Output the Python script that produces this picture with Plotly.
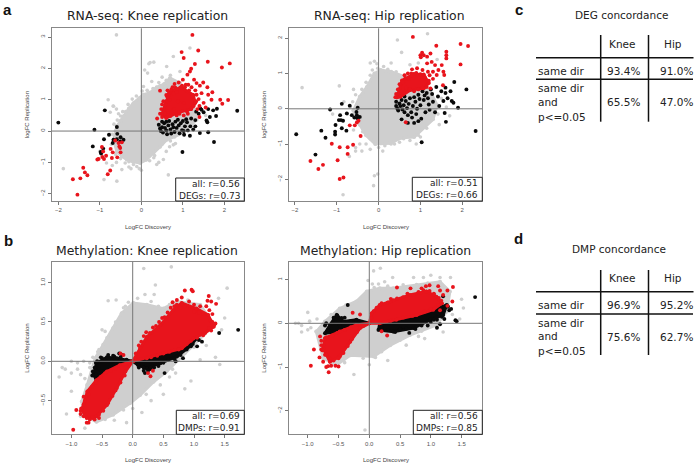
import plotly.graph_objects as go

# ---------- data (LogFC discovery, LogFC replication) ----------
# Dense clouds that cannot be read point by point are given as outlines, plus points along their rough edges.
rna_knee_gray_body = [(-.67,-.28),(-.62,.0),(-.59,.15),(-.5,.33),(-.43,.47),(-.3,.72),(-.19,.89),(-.05,1.05),(.05,1.16),(.2,1.22),(.37,1.40),(.55,1.5),(.69,1.69),(.93,1.53),(1.1,1.2),(1.25,.79),(1.33,.36),(1.0,-.06),(.8,-.18),(.61,-.28),(.45,-.5),(.29,-.70),(.12,-.92),(-.03,-1.02),(-.2,-.98),(-.35,-.91),(-.47,-.8),(-.59,-.65)]
rna_knee_gray = [(-.6,3.07),(.18,2.15),(.3,2.2),(.08,1.95),(.15,1.85),(-.8,1.0),(-.68,.8),(-.6,.7),(-1.88,-1.2),(-.59,-1.6),(-.9,-1.55),(.65,-1.4),(.77,-.44),(.53,-.91),(.37,-1.07),(-.19,-1.07),(-.39,-1.02),(-.47,-1.23),(-.11,-1.13),(1.17,2.65),(.77,2.38),(.61,2.06),(.21,2.19),(.93,1.9),(-.67,.79),(-.75,.6),(-.55,.55),(-.45,.62),(-1.0,-.65),(-.84,-1.02),(-.7,-1.1),(-.6,-1.0),(-.75,-.1),(.05,1.42),(.25,1.58),(.5,1.72),(.7,1.78),(.45,1.45),(1.4,.8),(1.55,.5),(.82,-.4),(.68,-.5),(.6,-.65),(.2,-.95),(-.05,-1.2),(.0,-1.25),(.3,-.85),(-.25,-1.2),(-.3,-1.15),(.42,-1.0),
 (-.72,-.42),(-.7,-.1),(-.66,.22),(-.58,.35),(-.5,.48),(-.38,.62),(-.32,.85),(-.22,1.02),(-.12,1.12),(.02,1.28),(.14,1.3),(.28,1.36),(.42,1.55),(.6,1.62),(.32,-.78),(.5,-.42),(.7,-.32),(-.5,-.88),(-.62,-.75),(-.3,-.98)]
rna_knee_red_body = [(.5,.55),(.6,.95),(.7,1.25),(.95,1.4),(1.25,1.15),(1.3,.9),(1.2,.7),(.9,.6),(.6,.42)]
rna_knee_red = [(1.23,3.07),(.97,2.52),(1.02,2.33),(1.37,2.57),(1.6,2.21),(2.13,2.16),(1.94,2.03),(1.29,2.14),(1.2,1.99),(1.17,1.9),(1.11,1.8),(1.0,1.64),(1.27,1.64),(1.33,1.53),(1.49,1.55),(1.41,1.45),(1.13,1.48),(1.21,1.4),(1.05,1.4),(1.59,1.4),(1.71,1.24),(1.61,1.16),(1.45,1.21),(1.33,1.16),(1.24,1.11),(1.9,1.0),(2.09,.99),(1.95,.87),(1.69,1.0),(.45,1.29),(.38,.4),(.5,.45),(.55,.7),(.62,1.1),(.63,1.3),(.8,1.5),(.9,1.55),(1.4,.8),(1.5,.9),(1.55,.75),(1.35,.7),(1.12,.55),(.85,.5),(1.4,.45),
 (.45,.55),(.48,.7),(.5,.85),(.53,.95),(.57,.55),(.58,.85),(.6,1.15),(.64,.62),(.66,1.2),(.68,1.0),(.7,.48),(.72,1.32),(.75,1.4),(.78,1.2),(.82,1.38),(.85,1.25),(.88,.95),(.92,.55),(.98,1.45),(1.02,.5),(1.07,1.48),(1.1,.62),(1.15,1.3),(1.2,.72),(1.26,.8),(1.32,.95),(1.3,1.3),(1.38,1.02),(1.02,.9),(.78,.7),
 (-1.65,-1.54),(-1.47,-1.51),(-1.54,-2.03),(-1.4,-1.17),(-1.36,-1.32),(-1.3,-1.41),(-.81,-1.38),(-.75,-1.26),(-1.06,-.91),(-1.03,-.89),(-.94,-.83),(-.9,-.89),(-.85,-.79),(-.95,-.51),(-.92,-.65),(-.71,-.86),(-.58,-.84),(-.74,-.57),(-.69,-.68),(-.63,-.3),(-.55,-.38),(-.51,-.54),(-.5,-.68),(-.47,-.36),(-.53,-.49)]
rna_knee_black = [(-2.0,.27),(-.88,.66),(-1.13,.04),(-.59,.13),(-1.17,-.49),(-.78,-.12),(-.9,-.26),(-.58,-.09),(-.5,-.2),(-.43,-.28),(-.67,-.28),(-.69,-.38),(-.98,-.67),(-.92,-.56),(-.97,-.72),(-.51,-.33),(-.59,-.26),
 (.42,.2),(.45,.08),(.47,.0),(.5,.12),(.52,-.05),(.55,.25),(.57,.1),(.6,.02),(.62,-.1),(.65,.18),(.67,.32),(.7,.05),(.72,-.08),(.75,.22),(.77,.12),(.8,-.03),(.82,.3),(.85,.1),(.88,.36),(.9,.18),(.92,-.07),(.95,.25),(.98,.03),(1.0,.32),(1.03,-.12),(1.05,.15),(1.08,.38),(1.1,.28),(1.12,.02),(1.17,-.15),(1.18,.15),(1.2,.4),(1.3,.35),(1.32,.62),(1.38,.55),(1.42,.72),(1.45,.68),(1.3,.15),(1.25,.05),(1.41,-.06),(1.61,-.04),(1.57,.34),(1.59,.28),(1.65,.45),(1.8,.48),(1.73,.66),(1.82,.71),(1.61,.7),(1.5,.6),(2.31,.65),(.99,-.67),(1.75,-.35),(1.02,.0),(.6,.3),(.5,.3)]

rna_hip_gray_body = [(-.6,-.05),(-.45,.34),(-.28,.62),(-.1,1.0),(.05,1.1),(.3,1.05),(.65,.9),(1.0,.75),(1.25,.45),(1.4,.1),(1.3,-.3),(.85,-.8),(.55,-.82),(.28,-.98),(-.08,-1.0),(-.3,-.75),(-.45,-.45)]
rna_hip_gray = [(1.17,2.13),(.45,1.95),(-1.83,.6),(-.94,.65),(-.6,.55),(-.1,1.35),(-.2,1.3),(-.04,1.28),(-.15,1.1),(.3,1.3),(.55,1.6),(1.4,1.4),(.75,1.25),(.95,1.3),(-1.1,-.15),(-.83,.2),(-.55,-1.1),(-.7,-1.35),(-.85,-2.44),(-.12,-2.18),(-.1,-1.9),(-.02,-1.85),(-.4,-1.2),(-.55,-1.2),(-.3,-1.0),(-.45,-1.0),(-.2,-1.15),(.1,-1.2),(.3,-1.0),(.5,-.95),(.75,-.9),(.9,-1.0),(1.0,-.8),(1.45,-.45),(1.7,-.2),(1.62,.05),(1.5,.3),(.6,-.85),(.15,-1.05),(-.6,-.6),(-.75,-.15),(-.68,.05),(-.62,.2),
 (-.55,.4),(-.4,.55),(-.3,.75),(-.2,.95),(-.02,1.15),(.12,1.2),(.22,1.12),(.42,1.05),(1.15,.6),(1.32,.25),(1.42,-.15),(1.15,-.55),(.95,-.75),(.38,-1.0),(.0,-1.1),(-.2,-.85),(-.38,-.65),(-.52,-.3)]
rna_hip_red_body = [(.44,.33),(.56,.8),(.84,.99),(1.08,.97),(1.2,.73),(1.08,.58),(.76,.53),(.52,.34)]
rna_hip_red = [(.82,2.04),(1.38,1.79),(1.62,1.62),(1.62,1.52),(1.62,1.43),(1.96,1.84),(2.14,1.78),(1.96,1.26),(1.04,1.59),(1.0,1.52),(1.08,1.52),(1.01,1.46),(1.16,1.48),(1.24,1.57),(1.27,1.33),(1.16,1.29),(1.35,1.24),(1.51,1.24),(1.55,1.05),(1.57,.96),(1.39,.96),(1.43,1.1),(1.54,.67),(1.24,.58),(.8,1.12),(.92,1.15),(.64,.86),(.78,1.0),(1.05,1.1),(1.18,1.05),(1.3,.85),(1.3,1.05),(.4,.33),(.5,.55),(.6,.45),
 (.42,.42),(.46,.55),(.5,.7),(.55,.5),(.58,.75),(.62,.95),(.66,.6),(.7,1.0),(.75,.55),(.8,.95),(.85,.5),(.9,1.02),(.95,.55),(1.0,.98),(1.05,.6),(1.1,.9),(1.15,.62),(1.2,.8),(1.22,.95),(.72,.85),
 (-1.63,-1.48),(-1.44,-1.71),(-1.33,-1.59),(-1.12,-.99),(-.93,-1.09),(-.74,-1.09),(-.61,-1.02),(-.74,-1.28),(-.98,-1.46),(-.93,-1.99),(-.84,-1.95),(-.43,-.77),(-.69,-.47),(-.57,-.47),(-.52,-.39),(-.48,-.34),(.65,-.38)]
rna_hip_black = [(-1.97,-.72),(-1.51,-1.3),(-1.37,-.62),(-1.27,-.82),(-1.04,-.65),(-1.04,-.73),(-1.03,-.46),(-.88,-.55),(-.77,-.62),(-1.16,-.02),(-.88,.14),(-.69,.09),(-.5,.03),(-.92,-.18),(-.9,-.32),(-.95,-.32),(-.85,-.34),(-.76,-.13),(-.64,-.18),(-.58,-.25),(-.52,-.18),(-.45,-.23),(-.53,-.09),(-.5,-.27),
 (2.32,-.63),(1.03,-.95),(2.1,.55),(1.81,.76),(1.9,.03),(1.79,.17),(1.61,-.37),(.42,.2),(.42,.08),(.45,.0),(.47,-.05),(.5,.15),(.52,.08),(.55,.25),(.57,-.02),(.6,.1),(.62,-.1),(.65,.22),(.68,.02),(.7,-.18),(.72,.14),(.75,.3),(.78,-.1),(.8,-.25),(.82,.08),(.85,.33),(.88,.2),(.9,-.15),(.92,.0),(.95,.4),(.98,.28),(1.0,.1),(1.02,-.28),(1.05,.5),(1.08,.25),(1.1,.38),(1.12,-.1),(1.15,.45),(1.18,.3),(1.2,.12),(1.22,-.03),(1.25,.55),(1.28,.42),(1.3,.2),(1.35,-.1),(1.38,.62),(1.42,.35),(1.45,.08),(1.5,.5),(1.55,.22),(1.58,-.12),(1.6,.45),(1.65,.3),(1.72,.5),(1.75,.22),(1.6,.6),(.7,-.4),(.85,-.4),(.95,-.35),(.55,-.3),(.62,.35)]

meth_knee_gray_body = [(-.74,-.3),(-.61,.04),(-.48,.21),(-.32,.42),(-.18,.61),(.01,.74),(.23,.72),(.5,.67),(.72,.76),(1.1,.72),(1.32,.46),(1.1,.29),(.77,.04),(.55,-.13),(.34,-.26),(.12,-.43),(-.04,-.53),(-.32,-.68),(-.59,-.77),(-.8,-.68),(-.83,-.51)]
meth_knee_gray = [(.18,1.18),(.63,1.2),(.37,.97),(1.54,.93),(1.4,.8),(1.5,.55),(-.4,.77),(-.27,.78),(-.07,.75),(.0,.72),(.1,.72),(-.45,.38),(-.5,.4),(-1.2,-.2),(-1.15,-.08),(-1.1,-.1),(-1.0,.0),(-.9,-.02),(-.9,-.1),(-.8,.0),(-1.0,-.38),(-1.0,-.15),(-.85,-.17),(-.7,-.08),(-.65,.05),(-.55,.15),(-1.08,-.67),(-.85,-.7),(-.78,-.85),(-.1,-.78),(-.3,-.75),(.0,-.6),(.15,-.65),(.3,-.5),(.5,-.42),(.85,-.35),(.95,-.25),(1.42,-.04),(1.35,.05),(1.1,.02),(.7,-.15),(.6,-.2),(1.2,.2),(1.45,.4),(.2,.85),(.35,.85),(-.15,.68),
 (-.78,-.22),(-.7,-.02),(-.57,.12),(-.42,.3),(-.28,.5),(-.12,.7),(.08,.8),(.3,.76),(.42,.7),(.6,.72),(.9,.78),(.65,-.1),(.85,.1),(1.0,.18),(.45,-.3),(.22,-.42),(-.15,-.62),(-.45,-.74)]
meth_knee_red_right = [(0,0),(.12,.17),(.23,.31),(.45,.46),(.66,.65),(.8,.74),(1.04,.67),(1.23,.59),(1.32,.44),(1.18,.36),(.99,.29),(.8,.165),(.5,.1),(.23,.04)]
meth_knee_red_left = [(0,0),(-.12,-.13),(-.26,-.34),(-.42,-.555),(-.59,-.7),(-.75,-.72),(-.83,-.62),(-.74,-.385),(-.59,-.24),(-.42,-.13),(-.21,-.05)]
meth_knee_black_right = [(0,0),(.23,.04),(.5,.1),(.8,.165),(1.04,.29),(.93,.19),(.72,.06),(.45,-.025),(.23,-.09),(.09,-.05)]
meth_knee_black_left = [(0,0),(-.26,.04),(-.42,.05),(-.59,-.025),(-.64,-.17),(-.59,-.24),(-.42,-.13),(-.21,-.05)]
meth_knee_red = [(-.97,-.87),(-.92,-.62),(-.85,-.63),(-.8,-.55),(-.8,-.45),(-.75,-.78),(-.72,-.78),(-.66,-.72),(-.55,-.72),(.85,.9),(.96,.91),(.98,.89),(.8,.81),(.75,.7),(.8,.71),(.85,.7),(1.24,.83),(1.22,.77),(1.28,.76),(1.36,.73),(1.2,.7),(1.3,.6),(1.25,.65),(1.33,.46),(1.35,.48),(1.28,.39),(.25,-.15),(.29,-.19),(.33,-.12),(-.2,.1),(-.15,.08),(.65,.75),(.72,.72),(1.0,.72),(1.1,.7),
 (.05,.1),(.1,.2),(.14,.25),(.18,.32),(.22,.37),(.28,.36),(.33,.43),(.38,.45),(.43,.5),(.48,.55),(.52,.56),(.57,.62),(.62,.68),(.68,.7),(.72,.78),(.78,.68),(.92,.76),(1.0,.63),(1.08,.62),(1.15,.6),(1.27,.52),(1.3,.5),(1.25,.42),(1.15,.33),(1.05,.3),(.95,.26),(.88,.22),(.75,.15),(.6,.12),(.4,.07),(.3,.05),
 (-.1,-.08),(-.18,-.08),(-.28,-.09),(-.36,-.12),(-.45,-.15),(-.52,-.2),(-.6,-.27),(-.66,-.32),(-.72,-.42),(-.78,-.5),(-.84,-.6),(-.85,-.67),(-.8,-.7),(-.7,-.74),(-.62,-.74),(-.55,-.68),(-.48,-.63),(-.4,-.53),(-.33,-.44),(-.28,-.37),(-.2,-.27),(-.13,-.18)]
meth_knee_black = [(1.72,.4),(1.41,.36),(1.05,.19),(.95,.19),(.82,.04),(.52,-.15),(.28,-.1),(.2,-.15),(-.66,-.18),(-.55,-.1),(-.6,-.02),(-.52,.05),(-.22,.1),(-.18,.08),(1.13,.25),(.7,.0),(.3,-.08),(.18,-.08),(-.3,.06),
 (.1,-.08),(.18,-.12),(.25,-.12),(.35,-.08),(.42,-.06),(.5,-.02),(.58,.02),(.68,.03),(.78,.08),(.88,.15),(.98,.22),(1.08,.27),(-.1,.02),(-.2,.05),(-.32,.07),(-.4,.08),(-.5,.04),(-.58,.0),(-.62,-.08),(-.65,-.13),(-.6,-.17),(-.5,-.13)]

meth_hip_gray_body = [(-.86,-.19),(-.72,.04),(-.48,.34),(-.21,.5),(-.04,.73),(.17,.8),(.39,.8),(.77,.88),(1.15,.95),(1.31,.73),(1.26,.27),(1.09,-.04),(.66,-.27),(.34,-.5),(.07,-.76),(-.31,-.73),(-.53,-.95),(-.75,-.8)]
meth_hip_gray = [(.07,1.2),(.18,1.26),(.38,1.05),(.72,1.05),(.88,1.05),(1.0,1.1),(1.15,1.05),(1.32,1.05),(1.5,.55),(1.53,.35),(1.47,.1),(1.35,.2),(-1.0,.25),(-1.15,.0),(-1.2,.0),(-1.1,-.05),(-.97,.05),(-1.1,-.2),(-1.0,-.15),(-.85,.1),(-.95,-.1),(-.25,-1.17),(-.07,-2.44),(.1,-.78),(.2,-.65),(.3,-.85),(.0,-.95),(-.4,-.9),(.25,.95),(.05,.9),(-.02,.98),(.15,.9),(.5,-.38),(.8,-.3),(1.2,-.2),(.6,-.5),(.9,-.35),
 (-.62,.2),(-.38,.42),(-.1,.62),(.08,.82),(.3,.85),(.55,.88),(.95,.92),(1.2,.5),(1.18,.12),(.85,-.18),(.5,-.38),(.2,-.62),(-.1,-.8),(-.42,-.85),(-.8,-.42)]
meth_hip_red_right = [(0,0),(.04,.23),(.17,.42),(.39,.53),(.66,.65),(.93,.73),(1.09,.61),(1.18,.46),(1.04,.31),(.77,.19),(.44,.08),(.17,0)]
meth_hip_red_left = [(0,0),(-.15,-.11),(-.31,-.42),(-.48,-.76),(-.64,-.88),(-.75,-.57),(-.72,-.34),(-.48,-.19),(-.21,-.04)]
meth_hip_black_right = [(.17,0),(.44,.08),(.77,.19),(1.04,.31),(1.26,.42),(1.2,.19),(.99,.08),(.72,-.11),(.39,-.19),(.15,-.15)]
meth_hip_black_left = [(0,0),(-.21,-.04),(-.48,-.19),(-.72,-.23),(-.64,-.04),(-.53,.19),(-.42,.04),(-.21,.08)]
meth_hip_red = [(-.95,-.97),(-.9,-.6),(-.8,-.3),(-.81,-.78),(-.75,-.88),(-.72,-.72),(-.7,-1.0),(-.67,-.98),(-.66,-1.12),(-.62,-.97),(-.55,-.97),(-.5,-.99),(-.78,-.5),(-.78,-.6),(.45,.82),(.67,.8),(.85,.8),(.92,.85),(.98,.87),(1.12,.85),(1.36,.83),(1.27,.75),(1.2,.65),(1.35,.5),(1.27,.4),(1.15,.75),(1.05,.68),(1.15,.3),(.29,-.28),(.2,-.18),(-.27,.24),(-.15,.2),
 (.03,.12),(.07,.28),(.12,.36),(.2,.46),(.3,.48),(.35,.56),(.45,.57),(.55,.6),(.62,.68),(.72,.65),(.8,.72),(.88,.76),(.98,.74),(1.05,.66),(1.13,.58),(1.17,.52),(1.12,.42),(1.0,.33),(.9,.27),(.7,.17),(.55,.13),(.35,.06),
 (-.1,-.06),(-.2,-.2),(-.28,-.36),(-.35,-.52),(-.42,-.68),(-.5,-.8),(-.58,-.85),(-.65,-.8),(-.7,-.72),(-.76,-.62),(-.78,-.4),(-.7,-.32),(-.6,-.28),(-.52,-.22),(-.4,-.15),(-.3,-.09)]
meth_hip_black = [(1.72,.6),(1.4,.07),(1.42,.05),(-.35,.42),(-.52,.18),(-.72,-.05),(-.7,.0),(-.67,-.7),(.65,-.22),(.95,-.05),(1.1,-.1),(1.15,-.02),(1.18,.15),(1.22,.1),(1.3,.3),(1.33,.33),(1.2,.62),(-.4,.13),(.5,-.12),(.85,.0),(1.05,.08),
 (.2,-.1),(.3,-.15),(.42,-.2),(.5,-.14),(.6,-.12),(.75,-.13),(.85,-.05),(1.0,.03),(1.1,.08),(1.18,.2),(1.28,.38),(-.55,.1),(-.6,.0),(-.67,-.15),(-.45,.12),(-.3,.05),(-.48,-.05),(-.58,.13)]

panel_titles = ["RNA-seq: Knee replication", "RNA-seq: Hip replication", "Methylation: Knee replication", "Methylation: Hip replication"]
stat_lines = [["all: r=0.56", "DEGs: r=0.73"], ["all: r=0.51", "DEGs: r=0.66"], ["all: r=0.69", "DMPs: r=0.91"], ["all: r=0.56", "DMPs: r=0.85"]]
y_titles = ["logFC Replication", "logFC Replication", "LogFC Replication", "LogFC Replication"]
x_ticks_rna = [-2, -1, 0, 1, 2]
x_ticks_meth = [-1.0, -0.5, 0.0, 0.5, 1.0, 1.5]
y_ticks = [[-2, -1, 0, 1, 2, 3], [-2, -1, 0, 1, 2], [-0.5, 0.0, 0.5, 1.0], [-2, -1, 0, 1]]
table_c = ["DEG concordance", "93.4%", "91.0%", "65.5%", "47.0%"]
table_d = ["DMP concordance", "96.9%", "95.2%", "75.6%", "62.7%"]

# ---------- layout geometry (pixels) ----------
W, H = 700, 469
GRAY, RED, BLACK = "#cfcfcf", "#e8141c", "#0a0a0a"
SANS = "Liberation Sans"
DJ = "DejaVu Sans"
def px(x): return x / W
def py(y): return 1 - y / H

panels = [
    dict(box=(51.7, 244.3, 28.3, 201), xr=(-2.16, 2.48), yr=(-2.233, 3.28), xt=x_ticks_rna, xfmt="d", yfmt="d",
         gb=[rna_knee_gray_body], g=rna_knee_gray, kb=[], k=rna_knee_black, rb=[rna_knee_red_body], r=rna_knee_red,
         stat=(175.7, 178), ty=16, tx=147, xty=227),
    dict(box=(288.7, 482.3, 28.3, 201), xr=(-2.15, 2.48), yr=(-2.616, 2.284), xt=x_ticks_rna, xfmt="d", yfmt="d",
         gb=[rna_hip_gray_body], g=rna_hip_gray, kb=[], k=rna_hip_black, rb=[rna_hip_red_body], r=rna_hip_red,
         stat=(412.3, 177.3), ty=15.5, tx=389, xty=227),
    dict(box=(51.7, 244.3, 261.7, 434.3), xr=(-1.321, 1.82), yr=(-0.928, 1.266), xt=x_ticks_meth, xfmt=".1f", yfmt=".1f",
         gb=[meth_knee_gray_body], g=meth_knee_gray, kb=[meth_knee_black_right, meth_knee_black_left], k=meth_knee_black,
         rb=[meth_knee_red_right, meth_knee_red_left], r=meth_knee_red,
         stat=(176.3, 410.3), ty=250, tx=147, xty=460),
    dict(box=(288.7, 482.3, 261.7, 434.3), xr=(-1.31, 1.837), yr=(-2.54, 1.41), xt=x_ticks_meth, xfmt=".1f", yfmt="d",
         gb=[meth_hip_gray_body], g=meth_hip_gray, kb=[meth_hip_black_right, meth_hip_black_left], k=meth_hip_black,
         rb=[meth_hip_red_right, meth_hip_red_left], r=meth_hip_red,
         stat=(413.3, 410.3), ty=250, tx=385, xty=460),
]

fig = go.Figure()
annotations, shapes = [], []
layout_axes = {}

def text(x, y, s, size, family=DJ, color="#222", anchor="center", angle=0, bold=False):
    annotations.append(dict(x=px(x), y=py(y), xref="paper", yref="paper", text=f"<b>{s}</b>" if bold else s,
                            showarrow=False, xanchor=anchor, yanchor="middle", align=anchor if anchor != "center" else "center",
                            font=dict(family=family, size=size, color=color), textangle=angle))

def line(x0, y0, x1, y1, width=1.5, color="#111"):
    shapes.append(dict(type="line", xref="paper", yref="paper", x0=px(x0), y0=py(y0), x1=px(x1), y1=py(y1),
                       line=dict(color=color, width=width), layer="above"))

for i, p in enumerate(panels):
    ax = "" if i == 0 else str(i + 1)
    xa, ya = f"x{ax}", f"y{ax}"
    l, r, t, b = p["box"]

    def add_body(pts, col):
        fig.add_trace(go.Scatter(x=[q[0] for q in pts] + [pts[0][0]], y=[q[1] for q in pts] + [pts[0][1]],
                                 mode="lines+markers", fill="toself", fillcolor=col, line=dict(color=col, width=3),
                                 marker=dict(color=col, size=4), xaxis=xa, yaxis=ya, hoverinfo="skip", showlegend=False))
    def add_pts(pts, col, size=3.9):
        fig.add_trace(go.Scatter(x=[q[0] for q in pts], y=[q[1] for q in pts], mode="markers",
                                 marker=dict(color=col, size=size, line=dict(width=0)), xaxis=xa, yaxis=ya,
                                 hoverinfo="skip", showlegend=False))
    for b_ in p["gb"]: add_body(b_, GRAY)
    add_pts(p["g"], GRAY, 3.6)
    for b_ in p["kb"]: add_body(b_, BLACK)
    add_pts(p["k"], BLACK)
    for b_ in p["rb"]: add_body(b_, RED)
    add_pts(p["r"], RED)

    common = dict(showgrid=False, zeroline=False, ticks="outside", ticklen=3, tickwidth=0.8, tickcolor="#777",
                  showline=True, linecolor="#888", linewidth=1, mirror=True, tickfont=dict(family=SANS, size=6, color="#555"))
    layout_axes[f"xaxis{ax}"] = dict(common, domain=[px(l), px(r)], range=list(p["xr"]), anchor=ya, tickvals=p["xt"], tickformat=p["xfmt"])
    layout_axes[f"yaxis{ax}"] = dict(common, domain=[py(b), py(t)], range=list(p["yr"]), anchor=xa, tickvals=y_ticks[i], tickformat=p["yfmt"], tickangle=-90)

    shapes.append(dict(type="line", xref=xa, yref=f"{ya} domain", x0=0, x1=0, y0=0, y1=1, line=dict(color="#777", width=1), layer="above"))
    shapes.append(dict(type="line", xref=f"{xa} domain", yref=ya, x0=0, x1=1, y0=0, y1=0, line=dict(color="#777", width=1), layer="above"))

    sx, sy = p["stat"]
    shapes.append(dict(type="rect", xref="paper", yref="paper", x0=px(sx), x1=px(r), y0=py(b), y1=py(sy),
                       fillcolor="white", line=dict(color="#222", width=1), layer="above"))
    text(r - 2, sy + 6, stat_lines[i][0], 9, anchor="right")
    text(r - 2, sy + 17.5, stat_lines[i][1], 9, anchor="right")

    text(p["tx"], p["ty"], panel_titles[i], 12.4)
    text((l + r) / 2, p["xty"], "LogFC Discovery", 6, family=SANS, color="#444")
    text(l - 25, (t + b) / 2, y_titles[i], 6, family=SANS, color="#444", angle=-90)

# panel letters
text(7, 9, "a", 15, family=SANS, color="#111", bold=True)
text(8, 241, "b", 15, family=SANS, color="#111", bold=True)
text(519, 9, "c", 15, family=SANS, color="#111", bold=True)
text(518, 238, "d", 15, family=SANS, color="#111", bold=True)

# concordance tables
def table(vals, title_x, title_y, v0, v1, h1, h2, rows):
    text(title_x, title_y, vals[0], 10.5)
    line(600.7, v0, 600.7, v1); line(648.5, v0, 648.5, v1)
    line(536, h1, 693.5, h1); line(536, h2, 693, h2)
    y_head, y1, y_a, y_b, y_c, y_v = rows
    text(622, y_head, "Knee", 10.5); text(673.3, y_head, "Hip", 10.5)
    text(536, y1, "same dir", 10.5, anchor="left")
    text(623, y1, vals[1], 10.5); text(676.7, y1, vals[2], 10.5)
    text(536, y_a, "same dir", 10.5, anchor="left"); text(536, y_b, "and", 10.5, anchor="left"); text(536, y_c, "p&lt;=0.05", 10.5, anchor="left")
    text(623, y_v, vals[3], 10.5); text(676.7, y_v, vals[4], 10.5)

table(table_c, 621.7, 15.3, 35, 121.7, 57.7, 79.3, (43.7, 70.7, 88.3, 101.7, 116.7, 102.3))
table(table_d, 619, 249.3, 270, 355, 291.7, 314, (278, 305.3, 322.7, 336, 350.7, 336.7))

fig.update_layout(width=W, height=H, margin=dict(l=0, r=0, t=0, b=0), paper_bgcolor="white", plot_bgcolor="white",
                  showlegend=False, annotations=annotations, shapes=shapes, **layout_axes)
fig.write_html("out.html", config=dict(displayModeBar=False),
               post_script="document.body.style.margin='0';document.documentElement.style.overflow='hidden';")
